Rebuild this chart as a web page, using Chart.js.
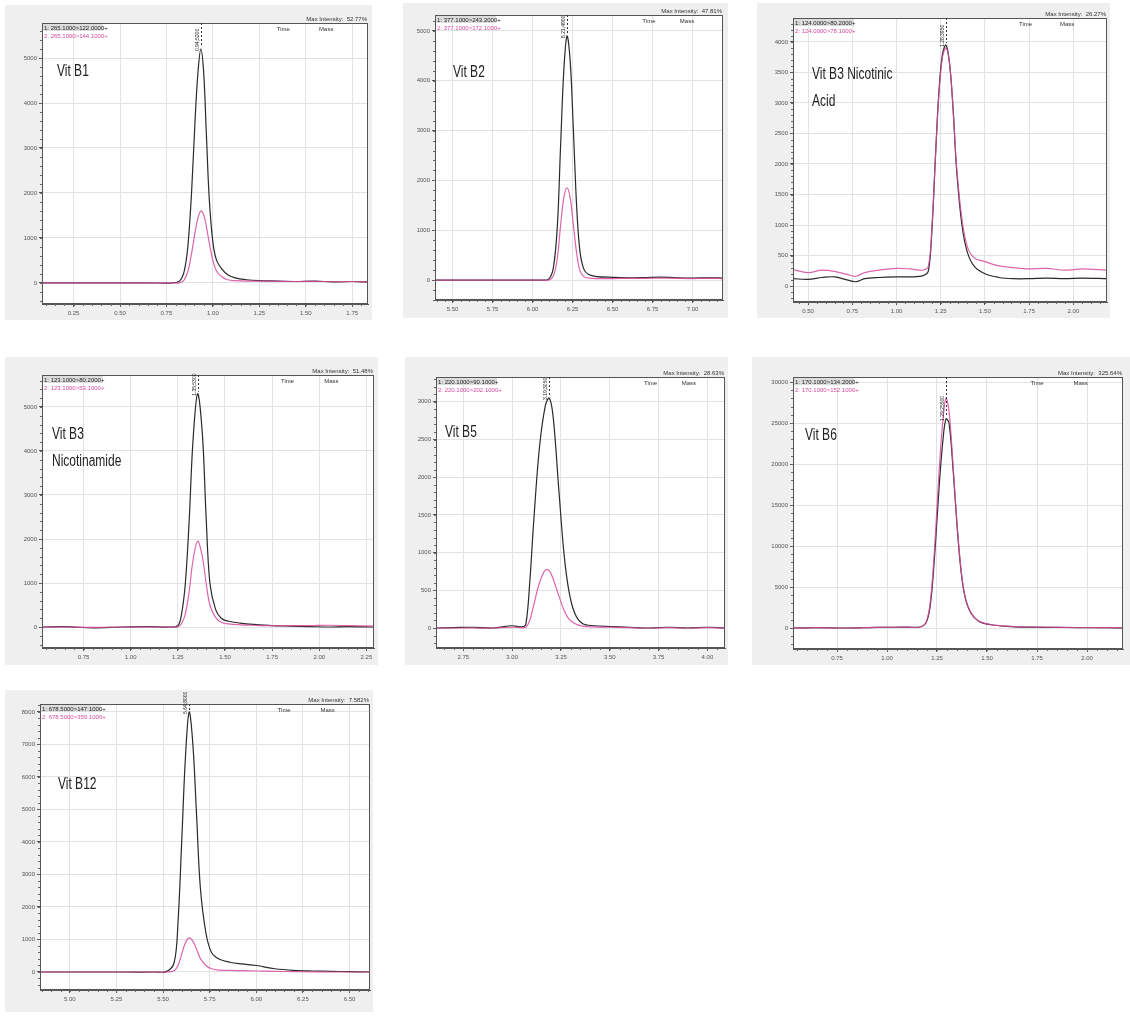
<!DOCTYPE html>
<html>
<head>
<meta charset="utf-8">
<script src="https://cdn.jsdelivr.net/npm/chart.js@4.4.1/dist/chart.umd.min.js"></script>
<style>
  body { margin: 0; background: #fff; width: 1130px; height: 1016px; position: relative; overflow: hidden; }
  canvas { position: absolute; }
</style>
</head>
<body>
<script>
// ---- data (time in min, intensity in counts) ----
const b1Time  = [0.08,0.20,0.35,0.50,0.65,0.78,0.82,0.845,0.865,0.885,0.905,0.92,0.935,0.95,0.965,0.98,1.00,1.02,1.05,1.08,1.12,1.18,1.25,1.35,1.45,1.55,1.65,1.75,1.835];
const b1Quant = [0,0,0,0,0,0,40,250,800,2000,3700,4700,5200,4700,3300,1900,900,500,300,180,110,70,50,40,30,40,20,30,20];
const b1Qual  = [0,0,0,0,0,0,0,60,250,650,1150,1450,1600,1520,1250,900,500,260,130,70,50,40,40,35,30,35,25,30,20];

const b2Time  = [5.39,5.50,5.65,5.80,5.95,6.05,6.10,6.13,6.155,6.175,6.195,6.215,6.235,6.255,6.275,6.295,6.32,6.35,6.40,6.50,6.60,6.70,6.80,6.90,7.00,7.10,7.19];
const b2Quant = [0,0,0,0,0,0,20,250,1100,2700,4200,4900,4400,3000,1500,600,220,110,70,55,45,50,60,45,40,45,40];
const b2Qual  = [0,0,0,0,0,0,0,80,450,1100,1650,1850,1650,1100,550,200,70,40,30,30,35,35,40,35,30,35,30];

const b3aTime  = [0.415,0.50,0.58,0.65,0.72,0.77,0.82,0.90,1.00,1.08,1.15,1.18,1.20,1.22,1.24,1.26,1.28,1.30,1.32,1.34,1.37,1.40,1.44,1.50,1.58,1.66,1.75,1.85,1.95,2.05,2.19];
const b3aQuant = [120,110,140,150,100,70,120,140,150,150,170,250,900,2100,3200,3800,3950,3650,2900,1900,1000,560,320,200,140,120,120,130,120,130,120];
const b3aQual  = [270,220,260,240,190,160,220,260,290,280,260,320,950,2100,3150,3750,3900,3650,2900,1950,1100,650,460,400,330,300,280,290,260,280,260];

const b3bTime  = [0.53,0.65,0.80,0.95,1.10,1.20,1.25,1.27,1.29,1.31,1.33,1.355,1.38,1.40,1.42,1.45,1.48,1.52,1.58,1.65,1.75,1.85,1.95,2.05,2.15,2.29];
const b3bQuant = [0,10,-20,0,10,0,30,300,1000,2400,4200,5300,4400,2500,1000,400,200,130,90,60,30,20,10,0,10,0];
const b3bQual  = [0,0,-10,0,0,0,0,80,300,800,1500,1950,1600,1000,500,220,110,70,50,40,30,30,30,40,30,20];

const b5Time  = [2.61,2.70,2.80,2.90,3.00,3.05,3.07,3.09,3.11,3.14,3.17,3.19,3.21,3.24,3.265,3.29,3.32,3.36,3.42,3.50,3.60,3.70,3.80,3.90,4.00,4.09];
const b5Quant = [0,5,10,0,30,15,50,600,1400,2400,2950,3050,2800,1800,1000,500,200,60,30,20,10,0,10,0,10,0];
const b5Qual  = [0,0,0,0,10,5,10,100,300,600,770,760,650,420,240,120,60,25,15,10,5,0,5,0,5,0];

const b6Time  = [0.53,0.65,0.80,0.95,1.10,1.17,1.20,1.22,1.24,1.26,1.28,1.295,1.31,1.33,1.35,1.37,1.39,1.42,1.46,1.52,1.60,1.70,1.80,1.90,2.00,2.10,2.18];
const b6Quant = [0,50,0,80,100,150,900,3500,9500,17000,23000,25500,25000,19500,12500,7000,3800,1800,800,400,200,100,80,60,50,40,0];
const b6Qual  = [0,50,0,80,100,150,1000,4000,10500,19000,25500,28000,26500,20000,12800,7200,3900,1850,820,420,220,120,90,70,60,50,20];

const b12Time  = [4.84,5.00,5.15,5.30,5.45,5.52,5.56,5.58,5.60,5.62,5.64,5.66,5.68,5.70,5.73,5.76,5.80,5.86,5.92,6.00,6.10,6.20,6.30,6.40,6.50,6.61];
const b12Quant = [0,0,0,0,0,20,300,1500,4000,6600,8000,7000,4800,2600,1200,600,400,300,250,200,100,50,30,20,10,0];
const b12Qual  = [0,0,0,0,0,0,40,200,550,900,1050,950,700,420,200,100,60,50,40,30,20,10,5,0,0,0];

// tick labels
const b1XTicks  = [0.25,0.50,0.75,1.00,1.25,1.50,1.75];
const b2XTicks  = [5.50,5.75,6.00,6.25,6.50,6.75,7.00];
const b3aXTicks = [0.50,0.75,1.00,1.25,1.50,1.75,2.00];
const b3bXTicks = [0.75,1.00,1.25,1.50,1.75,2.00,2.25];
const b5XTicks  = [2.75,3.00,3.25,3.50,3.75,4.00];
const b6XTicks  = [0.75,1.00,1.25,1.50,1.75,2.00];
const b12XTicks = [5.00,5.25,5.50,5.75,6.00,6.25,6.50];

const b1YTicks  = [0,1000,2000,3000,4000,5000];
const b2YTicks  = [0,1000,2000,3000,4000,5000];
const b3aYTicks = [0,500,1000,1500,2000,2500,3000,3500,4000];
const b3bYTicks = [0,1000,2000,3000,4000,5000];
const b5YTicks  = [0,500,1000,1500,2000,2500,3000];
const b6YTicks  = [0,5000,10000,15000,20000,25000,30000];
const b12YTicks = [0,1000,2000,3000,4000,5000,6000,7000,8000];

const panelNames   = [['Vit B1'], ['Vit B2'], ['Vit B3 Nicotinic', 'Acid'], ['Vit B3', 'Nicotinamide'], ['Vit B5'], ['Vit B6'], ['Vit B12']];
const maxIntensity = ['52.77%', '47.81%', '26.27%', '51.48%', '28.63%', '325.64%', '7.582%'];
const quantTrans   = ['1: 265.1000>122.0000+', '1: 377.1000>243.2000+', '1: 124.0000>80.2000+', '1: 123.1000>80.2000+', '1: 220.1000>90.1000+', '1: 170.1000>134.2000+', '1: 678.5000>147.1000+'];
const qualTrans    = ['2: 265.1000>144.1000+', '2: 377.1000>172.1000+', '2: 124.0000>78.1000+', '2: 123.1000>53.1000+', '2: 220.1000>202.1000+', '2: 170.1000>152.1000+', '2: 678.5000>359.1000+'];

// ---- layout (page px): box = grey frame, plot = white area, title = label position ----
const layout = [
  { box: [5, 5, 372, 320],    plot: [42, 23, 368, 304],   title: [57, 72],   x: [0.08, 1.835], y: [-470, 5780] },
  { box: [403, 3, 728, 318],  plot: [435, 15, 723, 300],  title: [453, 73],  x: [5.39, 7.19],  y: [-400, 5320] },
  { box: [757, 3, 1110, 318], plot: [793, 18, 1107, 302], title: [812, 75],  x: [0.415, 2.19], y: [-262, 4393] },
  { box: [5, 357, 378, 665],  plot: [42, 375, 374, 648],  title: [52, 435],  x: [0.53, 2.29],  y: [-477, 5727] },
  { box: [405, 357, 728, 665],plot: [436, 377, 725, 648], title: [445, 433], x: [2.61, 4.09],  y: [-265, 3329] },
  { box: [752, 357, 1130, 665],plot:[793, 377, 1123, 649],title: [805, 436], x: [0.53, 2.18],  y: [-2560, 30610] },
  { box: [5, 690, 373, 1012], plot: [40, 704, 370, 990],  title: [58, 785],  x: [4.84, 6.61],  y: [-554, 8246] }
];

const series = [
  [b1Time, b1Quant, b1Qual, b1XTicks, b1YTicks],
  [b2Time, b2Quant, b2Qual, b2XTicks, b2YTicks],
  [b3aTime, b3aQuant, b3aQual, b3aXTicks, b3aYTicks],
  [b3bTime, b3bQuant, b3bQual, b3bXTicks, b3bYTicks],
  [b5Time, b5Quant, b5Qual, b5XTicks, b5YTicks],
  [b6Time, b6Quant, b6Qual, b6XTicks, b6YTicks],
  [b12Time, b12Quant, b12Qual, b12XTicks, b12YTicks]
];

// draws the grey frame, plot border, minor ticks, header texts and peak marker
const chromPlugin = {
  id: 'chrom',
  beforeDraw(chart, args, o) {
    const { ctx, chartArea: a } = chart;
    ctx.save();
    ctx.fillStyle = '#efefef';
    ctx.fillRect(0, 0, chart.width, chart.height);
    ctx.fillStyle = '#ffffff';
    ctx.fillRect(a.left, a.top, a.width, a.height);
    ctx.restore();
  },
  afterDraw(chart, args, o) {
    const { ctx, chartArea: a, scales: { x, y } } = chart;
    ctx.save();
    // frame
    ctx.strokeStyle = '#555';
    ctx.lineWidth = 1;
    ctx.strokeRect(a.left + 0.5, a.top + 0.5, a.width - 1, a.height - 1);

    // minor ticks
    ctx.strokeStyle = '#666';
    ctx.beginPath();
    const xs = o.xStep / 5;
    for (let v = Math.ceil(x.min / xs) * xs; v <= x.max; v += xs) {
      const px = Math.round(x.getPixelForValue(v)) + 0.5;
      ctx.moveTo(px, a.bottom); ctx.lineTo(px, a.bottom + 2);
    }
    const ys = o.yStep / 5;
    for (let v = Math.ceil(y.min / ys) * ys; v <= y.max; v += ys) {
      const py = Math.round(y.getPixelForValue(v)) + 0.5;
      ctx.moveTo(a.left - 2, py); ctx.lineTo(a.left, py);
    }
    ctx.stroke();

    // header
    ctx.font = '6px "Liberation Sans Narrow", Arial, sans-serif';
    ctx.fillStyle = '#333';
    ctx.textAlign = 'right';
    ctx.textBaseline = 'bottom';
    ctx.fillText('Max Intensity:  ' + o.maxInt, a.right - 1, a.top - 1);
    ctx.textAlign = 'left';
    ctx.textBaseline = 'top';
    ctx.fillText('Time', a.left + a.width * 0.72, a.top + 3);
    ctx.fillText('Mass', a.left + a.width * 0.85, a.top + 3);
    ctx.fillStyle = '#ddd';
    ctx.fillRect(a.left + 1, a.top + 1, 60, 7);
    ctx.fillStyle = '#222';
    ctx.fillText(o.quant, a.left + 2, a.top + 2);
    ctx.fillStyle = '#d64a9c';
    ctx.fillText(o.qual, a.left + 2, a.top + 10);

    // peak marker
    const px = Math.round(x.getPixelForValue(o.peakX)) + 0.5;
    const py = y.getPixelForValue(o.peakY);
    ctx.strokeStyle = '#333';
    ctx.setLineDash([2, 2]);
    ctx.beginPath();
    ctx.moveTo(px, a.top); ctx.lineTo(px, py - 2);
    ctx.stroke();
    ctx.setLineDash([]);
    ctx.translate(px - 1, py + 2);
    ctx.rotate(-Math.PI / 2);
    ctx.font = '5px Arial, sans-serif';
    ctx.fillStyle = '#222';
    ctx.textAlign = 'left';
    ctx.textBaseline = 'bottom';
    ctx.fillText(o.peakX.toFixed(2) + ';' + Math.round(o.peakY), 0, 0);
    ctx.restore();

    // compound name, condensed like the instrument software's label font
    ctx.save();
    ctx.font = '16px Arial, "Liberation Sans", sans-serif';
    ctx.fillStyle = '#222';
    ctx.textBaseline = 'middle';
    ctx.translate(o.titleX, o.titleY);
    ctx.scale(0.75, 1);
    o.title.forEach((t, i) => ctx.fillText(t, 0, i * 27));
    ctx.restore();
  }
};

layout.forEach((p, i) => {
  const [time, quant, qual, xTicks, yTicks] = series[i];
  const [bl, bt, br, bb] = p.box;
  const [pl, pt, pr, pb] = p.plot;
  const canvas = document.createElement('canvas');
  canvas.width = br - bl;
  canvas.height = bb - bt;
  canvas.style.left = bl + 'px';
  canvas.style.top = bt + 'px';
  document.body.appendChild(canvas);

  const peakIdx = quant.indexOf(Math.max(...quant));

  new Chart(canvas, {
    type: 'line',
    data: {
      datasets: [
        { label: 'qual', data: time.map((t, k) => ({ x: t, y: qual[k] })), borderColor: 'rgba(214,74,156,0.85)', borderWidth: 1.2, pointRadius: 0, tension: 0.35 },
        { label: 'quant', data: time.map((t, k) => ({ x: t, y: quant[k] })), borderColor: '#2a2a2a', borderWidth: 1.2, pointRadius: 0, tension: 0.35 }
      ]
    },
    options: {
      responsive: false,
      animation: false,
      devicePixelRatio: 1,
      layout: { padding: { top: pt - bt, right: br - pr, left: 0, bottom: 0 } },
      plugins: {
        legend: { display: false },
        tooltip: { enabled: false },
        chrom: {
          xStep: xTicks[1] - xTicks[0],
          yStep: yTicks[1] - yTicks[0],
          maxInt: maxIntensity[i],
          quant: quantTrans[i],
          qual: qualTrans[i],
          peakX: time[peakIdx],
          peakY: quant[peakIdx],
          title: panelNames[i],
          titleX: p.title[0] - bl,
          titleY: p.title[1] - bt
        }
      },
      scales: {
        x: {
          type: 'linear',
          min: p.x[0], max: p.x[1],
          afterBuildTicks: s => { s.ticks = xTicks.map(v => ({ value: v })); },
          afterFit: s => { s.height = bb - pb; },
          ticks: { font: { size: 6, family: 'Arial' }, color: '#555', padding: 3, maxRotation: 0, callback: v => v.toFixed(2) },
          grid: { color: '#e2e2e2', tickColor: '#555', tickLength: 3 },
          border: { display: true, color: '#555' }
        },
        y: {
          min: p.y[0], max: p.y[1],
          afterBuildTicks: s => { s.ticks = yTicks.map(v => ({ value: v })); },
          afterFit: s => { s.width = pl - bl; },
          ticks: { font: { size: 6, family: 'Arial' }, color: '#555', padding: 2, callback: v => String(v) },
          grid: { color: '#e2e2e2', tickColor: '#555', tickLength: 3 },
          border: { display: true, color: '#555' }
        }
      }
    },
    plugins: [chromPlugin]
  });
});
</script>
</body>
</html>
